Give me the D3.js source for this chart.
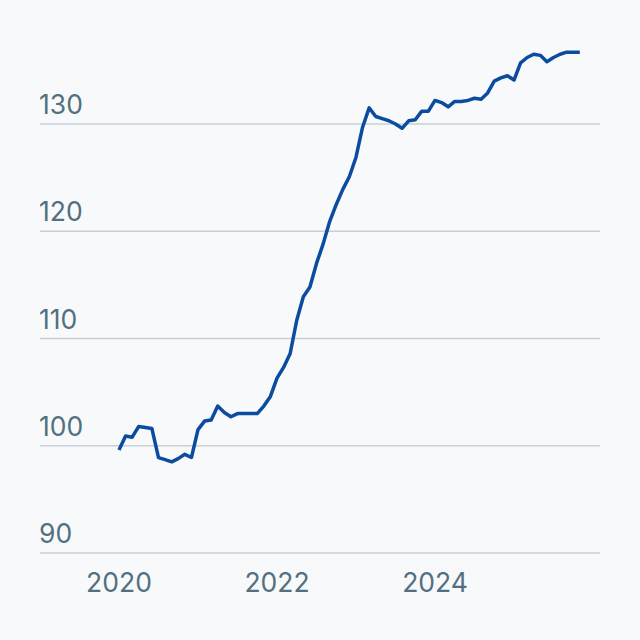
<!DOCTYPE html>
<html><head><meta charset="utf-8">
<script src="https://cdn.jsdelivr.net/npm/d3@7"></script>
<style>
html,body{margin:0;padding:0;background:#f8f9fa;}
svg{display:block;}
text{font-family:Inter,"Noto Sans",sans-serif;}
</style></head>
<body>
<svg id="chart" width="640" height="640"></svg>
<script>
const startYear = 2020;
const values = [
  99.6,100.9,100.8,101.8,101.7,101.6,98.9,98.7,98.5,98.8,99.2,98.9,
  101.5,102.3,102.4,103.7,103.1,102.7,103.0,103.0,103.0,103.0,103.7,104.6,
  106.3,107.3,108.6,111.7,113.9,114.8,117.0,118.8,120.9,122.5,123.9,125.1,
  126.9,129.7,131.5,130.7,130.5,130.3,130.0,129.6,130.3,130.4,131.2,131.2,
  132.2,132.0,131.6,132.1,132.1,132.2,132.4,132.3,132.9,134.0,134.3,134.5,
  134.1,135.7,136.2,136.5,136.4,135.8,136.2,136.5,136.7,136.7,136.7
];
const yTicks = [90,100,110,120,130];
const xTicks = [2020,2022,2024];

const svg = d3.select("#chart");
const x = d3.scaleLinear().domain([2020,2026]).range([119,119+6*79]);
const y = d3.scaleLinear().domain([90,130]).range([553,124]);

const data = values.map((v,i)=>({t: startYear + i/12, v}));

svg.append("g").selectAll("line").data(yTicks).join("line")
  .attr("x1",40).attr("x2",600)
  .attr("y1",d=>y(d)).attr("y2",d=>y(d))
  .attr("stroke","#c5d0d8").attr("stroke-width",1.5);

svg.append("g").selectAll("text").data(yTicks).join("text")
  .attr("x",39).attr("y",d=>y(d)-10)
  .attr("fill","#52707f").attr("font-size",26.5)
  .text(d=>d);

svg.append("g").selectAll("text").data(xTicks).join("text")
  .attr("x",d=>x(d)).attr("y",592).attr("text-anchor","middle")
  .attr("fill","#52707f").attr("font-size",26.5)
  .text(d=>d);

svg.append("path").datum(data)
  .attr("fill","none").attr("stroke","#0b4ca0").attr("stroke-width",3.5)
  .attr("stroke-linejoin","round")
  .attr("d", d3.line().x(d=>x(d.t)).y(d=>y(d.v)));
</script>
</body></html>
